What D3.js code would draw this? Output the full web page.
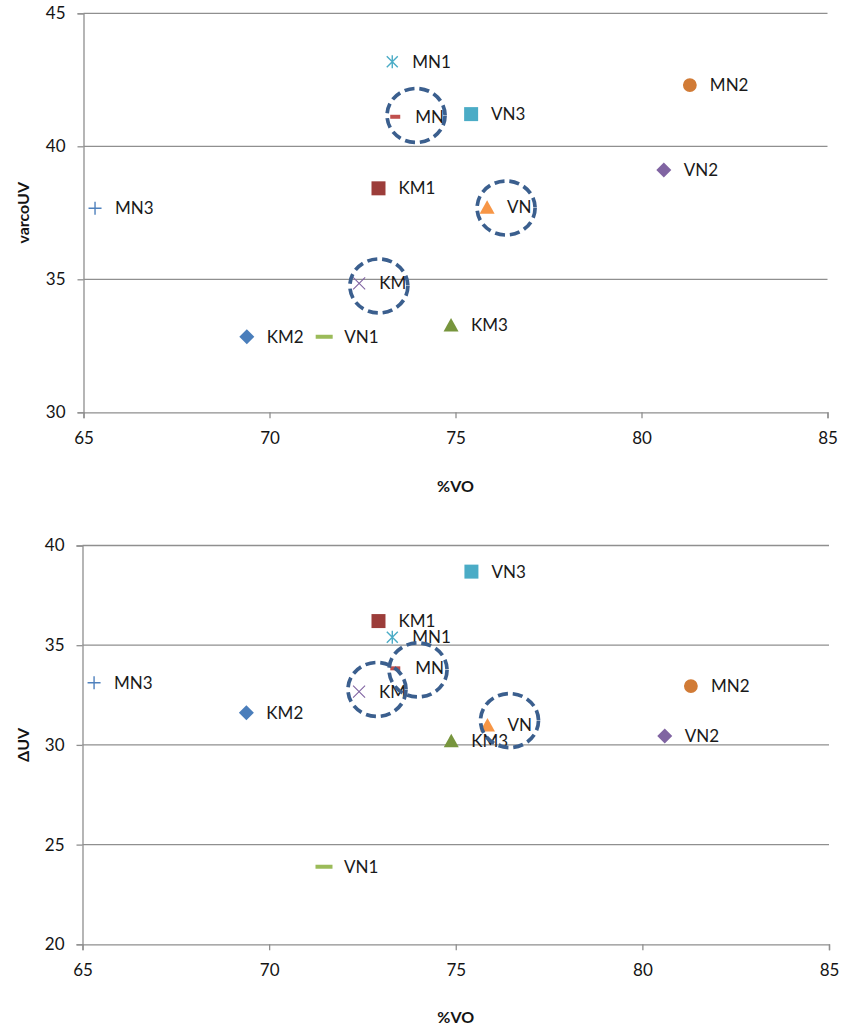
<!DOCTYPE html>
<html>
<head>
<meta charset="utf-8">
<script src="https://cdn.jsdelivr.net/npm/d3@7"></script>
<style>
  html, body { margin: 0; padding: 0; background: #ffffff; }
  svg { display: block; }
  text { font-family: Lato, "Open Sans", sans-serif; }
</style>
</head>
<body>
<svg id="chart" width="841" height="1027"></svg>
<script>
// ---------- data ----------
const labels   = ["KM2", "KM1", "KM3", "KM", "MN1", "MN2", "MN3", "MN", "VN1", "VN2", "VN3", "VN"];
const pctVO    = [69.39, 72.93, 74.88, 72.41, 73.30, 81.30, 65.31, 73.38, 71.47, 80.60, 75.42, 75.85];
const varcoUV  = [32.84, 38.42, 33.28, 34.85, 43.18, 42.30, 37.67, 41.11, 32.84, 39.11, 41.21, 37.71];
const deltaUV  = [31.61, 36.21, 30.21, 32.67, 35.40, 32.95, 33.12, 33.84, 23.89, 30.45, 38.69, 31.00];

// highlighted (circled) groups: centres in data units
const circleLabels   = ["MN", "VN", "KM"];
const circleX_top    = [73.94, 76.36, 72.94];
const circleY_top    = [41.16, 37.68, 34.75];
const circleX_bottom = [73.99, 76.44, 72.89];
const circleY_bottom = [33.76, 31.22, 32.78];

const xTicks       = [65, 70, 75, 80, 85];
const yTicksTop    = [30, 35, 40, 45];
const yTicksBottom = [20, 25, 30, 35, 40];

// ---------- marker styles ----------
const markerShape = ["diamond", "square", "triangle", "x", "star", "circle", "plus", "shortdash", "dash", "diamond", "square", "triangle"];
const markerColor = ["#4A7EBB", "#9C3D3A", "#77953D", "#8064A2", "#4BACC6", "#D17B36", "#4F81BD", "#C0504D", "#9BBB59", "#8064A2", "#4BACC6", "#F79646"];

function markerPath(shape) {
  switch (shape) {
    case "diamond":   return "M0,-7.5L7.5,0L0,7.5L-7.5,0Z";
    case "square":    return "M-7,-7H7V7H-7Z";
    case "triangle":  return "M0,-7L7.5,6.5H-7.5Z";
    case "circle":    return d3.symbol(d3.symbolCircle, 150)();
    case "x":         return "M-6,-6L6,6M-6,6L6,-6";
    case "star":      return "M0,-6.5V6.5M-5.5,-5.5L5.5,5.5M-5.5,5.5L5.5,-5.5";
    case "plus":      return "M-6.5,0H6.5M0,-6.5V6.5";
    case "dash":      return "M-8.5,-2H8.5V2H-8.5Z";
    case "shortdash": return "M-5,-2H5V2H-5Z";
  }
}
const strokeShapes = new Set(["x", "star", "plus"]);

const svg = d3.select("#chart");
const gridColor = "#8f8f8f";

function drawPanel(cfg) {
  const x = d3.scaleLinear().domain([65, 85]).range([cfg.x0, cfg.x1]);
  const y = d3.scaleLinear().domain(cfg.yDomain).range([cfg.y0, cfg.y1]);
  const g = svg.append("g");

  // gridlines
  g.append("g").selectAll("line")
    .data(cfg.yTicks.filter(t => t !== cfg.yDomain[0]))
    .join("line")
    .attr("x1", cfg.x0).attr("x2", cfg.x1)
    .attr("y1", d => y(d)).attr("y2", d => y(d))
    .attr("stroke", gridColor).attr("stroke-width", 1.3);

  // x axis
  const xAxis = g.append("g")
    .attr("transform", `translate(0,${cfg.y0})`)
    .call(d3.axisBottom(x).tickValues(xTicks).tickSize(6).tickPadding(14).tickFormat(d3.format("d")));
  // y axis
  const yAxis = g.append("g")
    .attr("transform", `translate(${cfg.x0},0)`)
    .call(d3.axisLeft(y).tickValues(cfg.yTicks).tickSize(6).tickPadding(12).tickFormat(d3.format("d")));
  [xAxis, yAxis].forEach(a => {
    a.select(".domain").attr("stroke", gridColor).attr("stroke-width", 1.3);
    a.selectAll(".tick line").attr("stroke", gridColor).attr("stroke-width", 1.3);
    a.selectAll(".tick text").attr("font-family", "Lato, sans-serif").attr("font-size", 17).attr("fill", "#141414");
  });
  xAxis.selectAll(".tick text").attr("dy", "0.71em");

  // axis titles
  g.append("text")
    .attr("x", (cfg.x0 + cfg.x1) / 2).attr("y", cfg.xTitleY)
    .attr("text-anchor", "middle").attr("dominant-baseline", "central")
    .attr("font-size", 16).attr("font-weight", "bold").attr("fill", "#141414")
    .text("%VO");
  g.append("text")
    .attr("transform", `translate(22,${(cfg.y0 + cfg.y1) / 2}) rotate(-90)`)
    .attr("text-anchor", "middle").attr("dominant-baseline", "central")
    .attr("font-size", 16).attr("font-weight", "bold").attr("fill", "#141414")
    .text(cfg.yTitle);

  const idx = labels.map((_, i) => i);

  // markers
  g.append("g").selectAll("path")
    .data(idx)
    .join("path")
    .attr("transform", i => `translate(${x(pctVO[i])},${y(cfg.values[i])})`)
    .attr("d", i => markerPath(markerShape[i]))
    .attr("fill", i => strokeShapes.has(markerShape[i]) ? "none" : markerColor[i])
    .attr("stroke", i => strokeShapes.has(markerShape[i]) ? markerColor[i] : "none")
    .attr("stroke-width", i => markerShape[i] === "x" ? 1.1 : 1.4);

  // data labels
  g.append("g").selectAll("text")
    .data(idx)
    .join("text")
    .attr("x", i => x(pctVO[i]) + 20)
    .attr("y", i => y(cfg.values[i]))
    .attr("dy", "0.36em")
    .attr("font-size", 17).attr("fill", "#1a1a1a")
    .text(i => labels[i]);

  // dashed highlight circles
  g.append("g").selectAll("ellipse")
    .data(circleLabels.map((_, i) => i))
    .join("ellipse")
    .attr("cx", i => x(cfg.cx[i]))
    .attr("cy", i => y(cfg.cy[i]))
    .attr("rx", 29).attr("ry", 27)
    .attr("fill", "none")
    .attr("stroke", "#3B5F8E")
    .attr("stroke-width", 3.7)
    .attr("stroke-dasharray", "10,5");
}

drawPanel({
  x0: 83.5, x1: 827.5, y0: 412.3, y1: 13.3,
  yDomain: [30, 45], yTicks: yTicksTop, values: varcoUV,
  yTitle: "varcoUV", xTitleY: 485,
  cx: circleX_top, cy: circleY_top
});
drawPanel({
  x0: 82.5, x1: 829, y0: 944.3, y1: 545.5,
  yDomain: [20, 40], yTicks: yTicksBottom, values: deltaUV,
  yTitle: "ΔUV", xTitleY: 1016.5,
  cx: circleX_bottom, cy: circleY_bottom
});
</script>
</body>
</html>
